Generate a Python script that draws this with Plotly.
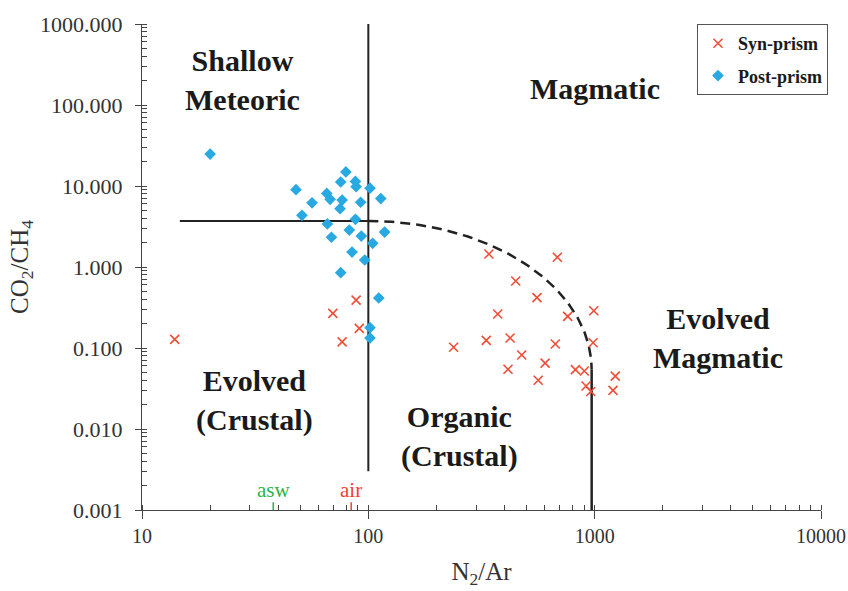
import numpy as np
import plotly.graph_objects as go

# ---- data ----
syn_n2ar = [88.3, 69.7, 91.2, 76.6, 13.95, 341, 684, 448, 556, 373, 760, 991, 238, 332,
            423, 670, 984, 476, 604, 414, 563, 822, 900, 1233, 916, 961, 1205]
syn_co2ch4 = [0.39, 0.268, 0.175, 0.119, 0.128, 1.445, 1.32, 0.671, 0.418, 0.263, 0.246, 0.288,
              0.102, 0.124, 0.133, 0.112, 0.116, 0.082, 0.065, 0.0546, 0.040, 0.054, 0.052,
              0.045, 0.034, 0.029, 0.030]

post_n2ar = [20.0, 79.6, 75.5, 87.7, 88.3, 101.7, 47.9, 65.5, 67.8, 76.6, 56.4, 92.5, 113.5,
             75.0, 50.9, 87.7, 65.9, 82.4, 118, 68.7, 93.1, 104.5, 84.7, 96.4, 75.5, 111.2,
             101.7, 101.7]
post_co2ch4 = [24.8, 14.9, 11.2, 11.4, 9.8, 9.4, 9.0, 8.1, 6.85, 6.7, 6.2, 6.3, 7.0, 5.25, 4.35,
               3.88, 3.40, 2.86, 2.70, 2.33, 2.41, 1.96, 1.53, 1.22, 0.85, 0.414, 0.178, 0.133]

# boundaries
split_x = 100
split_y = 3.7
hline_x0 = 14.7
vline_top = 1000
vline_bottom = 0.003
right_x = 970
right_y_end = 0.054
axis_min_y = 0.001

asw_x = 38
air_x = 84

y_ticks = [0.001, 0.01, 0.1, 1, 10, 100, 1000]
y_ticktext = ["0.001", "0.010", "0.100", "1.000", "10.000", "100.000", "1000.000"]
x_ticks = [10, 100, 1000, 10000]
x_ticktext = ["10", "100", "1000", "10000"]

region_text = ["Shallow<br>Meteoric", "Magmatic", "Evolved<br>Magmatic",
               "Evolved<br>(Crustal)", "Organic<br>(Crustal)"]
region_x = [27.9, 1000, 3510, 31.3, 254]
region_y = [204, 158, 0.133, 0.0228, 0.0080]

SERIF = "Liberation Serif, Times New Roman, serif"
LINE = "#222222"

fig = go.Figure()

# boundary lines
fig.add_trace(go.Scatter(x=[split_x, split_x], y=[vline_bottom, vline_top], mode="lines",
                         line=dict(color=LINE, width=2), showlegend=False, hoverinfo="skip"))
fig.add_trace(go.Scatter(x=[hline_x0, split_x * 1.04], y=[split_y, split_y], mode="lines",
                         line=dict(color=LINE, width=2), showlegend=False, hoverinfo="skip"))
# dashed quarter ellipse in log space
cx, cy = np.log10(split_x), np.log10(right_y_end)
a = np.log10(right_x) - cx
b = np.log10(split_y) - cy
t = np.linspace(0, np.pi / 2, 120)
ex = 10 ** (cx + a * np.sin(t))
ey = 10 ** (cy + b * np.cos(t))
fig.add_trace(go.Scatter(x=ex, y=ey, mode="lines",
                         line=dict(color=LINE, width=2.5, dash="10px,6px"),
                         showlegend=False, hoverinfo="skip"))
fig.add_trace(go.Scatter(x=[right_x, right_x], y=[right_y_end, axis_min_y], mode="lines",
                         line=dict(color=LINE, width=2.5), showlegend=False, hoverinfo="skip"))

# asw / air markers
fig.add_trace(go.Scatter(x=[asw_x, asw_x], y=[0.00085, 0.00125], mode="lines",
                         line=dict(color="#2DB34A", width=1.5), showlegend=False, hoverinfo="skip",
                         cliponaxis=False))
fig.add_trace(go.Scatter(x=[air_x, air_x], y=[0.00085, 0.00125], mode="lines",
                         line=dict(color="#F0402F", width=1.5), showlegend=False, hoverinfo="skip",
                         cliponaxis=False))

# data
fig.add_trace(go.Scatter(x=syn_n2ar, y=syn_co2ch4, mode="markers", name="<b>Syn-prism</b>",
                         legendgroup="syn",
                         marker=dict(symbol="x-thin-open", size=9, color="#F04E37",
                                     line=dict(color="#F04E37", width=1.6))))
fig.add_trace(go.Scatter(x=post_n2ar, y=post_co2ch4, mode="markers", name="<b>Post-prism</b>",
                         legendgroup="post",
                         marker=dict(symbol="diamond", size=9, color="#29A9E1",
                                     line=dict(width=0))))

# region labels
for rx, ry, txt in zip(region_x, region_y, region_text):
    fig.add_annotation(x=np.log10(rx), y=np.log10(ry), xref="x", yref="y", text="<b>" + txt + "</b>",
                       showarrow=False, align="center",
                       font=dict(family=SERIF, size=30, color="#1a1a1a"))

fig.add_annotation(x=np.log10(asw_x), y=np.log10(0.00125), xref="x", yref="y", text="asw",
                   showarrow=False, yanchor="bottom", yshift=-2,
                   font=dict(family=SERIF, size=21, color="#2DB34A"))
fig.add_annotation(x=np.log10(air_x), y=np.log10(0.00125), xref="x", yref="y", text="air",
                   showarrow=False, yanchor="bottom", yshift=-2,
                   font=dict(family=SERIF, size=21, color="#F0402F"))

fig.update_layout(
    width=848, height=591,
    margin=dict(l=142, r=27, t=24, b=81, autoexpand=False),
    paper_bgcolor="white", plot_bgcolor="white",
    font=dict(family=SERIF, size=22, color="#333333"),
    legend=dict(x=1.0103, y=1.0, xanchor="right", yanchor="top",
                bordercolor="#555555", borderwidth=1, bgcolor="white",
                font=dict(family=SERIF, size=18, color="#1a1a1a"),
                itemwidth=30, tracegroupgap=6),
    xaxis=dict(type="log", range=[1, 4], showgrid=False, zeroline=False, automargin=False,
               showline=True, linecolor="#444444", linewidth=1,
               ticks="outside", ticklen=8, tickcolor="#444444", ticklabeloverflow="allow",
               tickfont=dict(family=SERIF, size=20, color="#333333"),
               tickvals=x_ticks, ticktext=x_ticktext,
               minor=dict(ticks="inside", ticklen=5, tickcolor="#444444", dtick="D1", showgrid=False),
               title=dict(text="N<sub>2</sub>/Ar", font=dict(family=SERIF, size=25, color="#333333"),
                          standoff=16)),
    yaxis=dict(type="log", range=[-3, 3], showgrid=False, zeroline=False, automargin=False,
               showline=True, linecolor="#444444", linewidth=1,
               ticks="outside", ticklen=6, tickcolor="#444444", ticklabelstandoff=8,
               tickvals=y_ticks, ticktext=y_ticktext,
               minor=dict(ticks="inside", ticklen=5, tickcolor="#444444", dtick="D1", showgrid=False),
               title=dict(text="CO<sub>2</sub>/CH<sub>4</sub>",
                          font=dict(family=SERIF, size=25, color="#333333"), standoff=4)),
)

fig.write_html("out.html", config={"displayModeBar": False},
               post_script="document.body.style.margin='0';document.body.style.overflow='hidden';")
